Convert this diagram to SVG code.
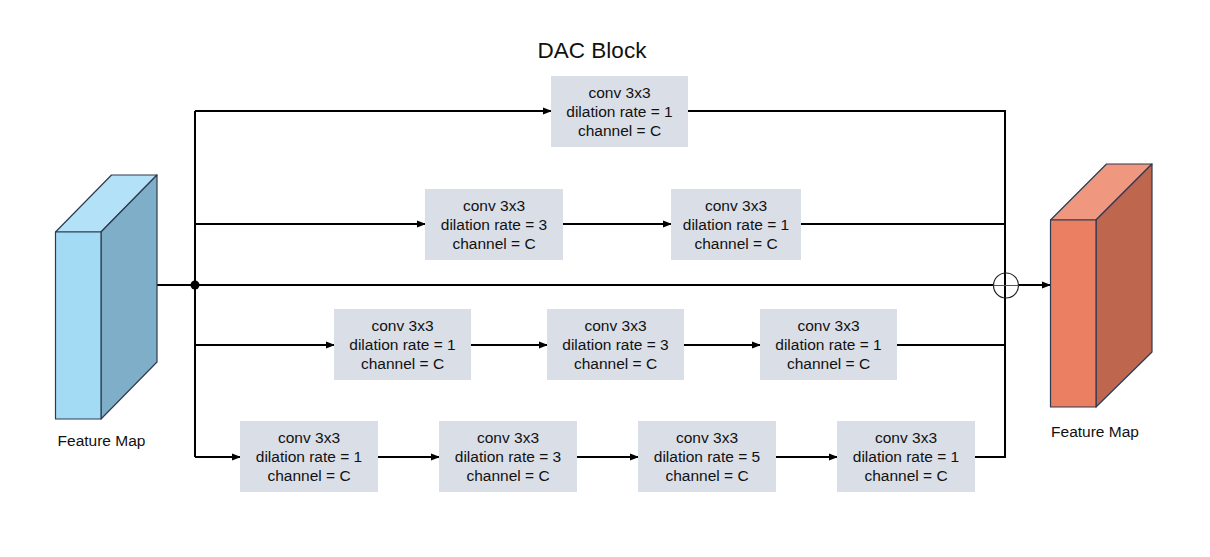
<svg xmlns="http://www.w3.org/2000/svg" width="1210" height="557" viewBox="0 0 1210 557">
<defs>
<marker id="arr" markerWidth="9" markerHeight="8" refX="8" refY="4" orient="auto" markerUnits="userSpaceOnUse">
<path d="M0,0.5 L9,4 L0,7.5 Z" fill="#000"/>
</marker>
<style>
.box{fill:#dadee7;stroke:none}
.t{font-family:"Liberation Sans",Arial,sans-serif;font-size:15.5px;fill:#111;text-anchor:middle}
.ln{stroke:#000;stroke-width:2;fill:none}
.ar{stroke:#000;stroke-width:2;fill:none;marker-end:url(#arr)}
.cs{stroke:#2e3a50;stroke-width:1.2;stroke-linejoin:round}
</style>
</defs>
<rect width="1210" height="557" fill="#fff"/>
<text x="592" y="58" font-family="&quot;Liberation Sans&quot;,Arial,sans-serif" font-size="22.5" fill="#111" text-anchor="middle">DAC Block</text>

<g id="connectors">
<line class="ln" x1="157" y1="285" x2="993" y2="285"/>
<line class="ln" x1="195" y1="111" x2="195" y2="457"/>
<line class="ar" x1="195" y1="111" x2="551" y2="111"/>
<line class="ln" x1="688" y1="111" x2="1005" y2="111"/>
<line class="ar" x1="195" y1="224" x2="425" y2="224"/>
<line class="ar" x1="563" y1="224" x2="671" y2="224"/>
<line class="ln" x1="801" y1="224" x2="1005" y2="224"/>
<line class="ar" x1="195" y1="345" x2="334" y2="345"/>
<line class="ar" x1="471" y1="345" x2="547" y2="345"/>
<line class="ar" x1="684" y1="345" x2="760" y2="345"/>
<line class="ln" x1="897" y1="345" x2="1005" y2="345"/>
<line class="ar" x1="195" y1="457" x2="240" y2="457"/>
<line class="ar" x1="378" y1="457" x2="439" y2="457"/>
<line class="ar" x1="577" y1="457" x2="638" y2="457"/>
<line class="ar" x1="776" y1="457" x2="837" y2="457"/>
<line class="ln" x1="975" y1="457" x2="1005" y2="457"/>
<line class="ln" x1="1005" y1="110" x2="1005" y2="458"/>
<line class="ar" x1="1018" y1="285" x2="1050" y2="285"/>
<circle cx="195" cy="285" r="4.5" fill="#000"/>
</g>

<g id="sum">
<circle cx="1006" cy="285.5" r="12.5" fill="none" stroke="#222" stroke-width="1.2"/>
<line x1="993.5" y1="285.5" x2="1018.5" y2="285.5" stroke="#555" stroke-width="1"/>
</g>

<g id="input-map">
<polygon class="cs" points="55.5,232 111.5,175 157,175 101,232" fill="#b3e1f7"/>
<polygon class="cs" points="101,232 157,175 157,362 101,419" fill="#7fafc8"/>
<rect class="cs" x="55.5" y="232" width="45.5" height="187" fill="#a3dbf5"/>
<text class="t" x="101.5" y="446">Feature Map</text>
</g>

<g id="output-map">
<polygon class="cs" points="1050.5,220 1106.5,164 1152,164 1096,220" fill="#f0977f"/>
<polygon class="cs" points="1096,220 1152,164 1152,352 1096,407" fill="#be674e"/>
<rect class="cs" x="1050.5" y="220" width="45.5" height="187" fill="#eb7f62"/>
<text class="t" x="1095" y="437">Feature Map</text>
</g>

<g id="b1">
<rect class="box" x="551" y="76" width="137" height="71"/>
<text class="t" x="619.5" y="98">conv 3x3</text>
<text class="t" x="619.5" y="117">dilation rate = 1</text>
<text class="t" x="619.5" y="136">channel = C</text>
</g>

<g id="b2a">
<rect class="box" x="425" y="189" width="138" height="71"/>
<text class="t" x="494" y="211">conv 3x3</text>
<text class="t" x="494" y="230">dilation rate = 3</text>
<text class="t" x="494" y="249">channel = C</text>
</g>
<g id="b2b">
<rect class="box" x="671" y="189" width="130" height="71"/>
<text class="t" x="736" y="211">conv 3x3</text>
<text class="t" x="736" y="230">dilation rate = 1</text>
<text class="t" x="736" y="249">channel = C</text>
</g>

<g id="b3a">
<rect class="box" x="334" y="309" width="137" height="71"/>
<text class="t" x="402.5" y="331">conv 3x3</text>
<text class="t" x="402.5" y="350">dilation rate = 1</text>
<text class="t" x="402.5" y="369">channel = C</text>
</g>
<g id="b3b">
<rect class="box" x="547" y="309" width="137" height="71"/>
<text class="t" x="615.5" y="331">conv 3x3</text>
<text class="t" x="615.5" y="350">dilation rate = 3</text>
<text class="t" x="615.5" y="369">channel = C</text>
</g>
<g id="b3c">
<rect class="box" x="760" y="309" width="137" height="71"/>
<text class="t" x="828.5" y="331">conv 3x3</text>
<text class="t" x="828.5" y="350">dilation rate = 1</text>
<text class="t" x="828.5" y="369">channel = C</text>
</g>

<g id="b4a">
<rect class="box" x="240" y="421" width="138" height="71"/>
<text class="t" x="309" y="443">conv 3x3</text>
<text class="t" x="309" y="462">dilation rate = 1</text>
<text class="t" x="309" y="481">channel = C</text>
</g>
<g id="b4b">
<rect class="box" x="439" y="421" width="138" height="71"/>
<text class="t" x="508" y="443">conv 3x3</text>
<text class="t" x="508" y="462">dilation rate = 3</text>
<text class="t" x="508" y="481">channel = C</text>
</g>
<g id="b4c">
<rect class="box" x="638" y="421" width="138" height="71"/>
<text class="t" x="707" y="443">conv 3x3</text>
<text class="t" x="707" y="462">dilation rate = 5</text>
<text class="t" x="707" y="481">channel = C</text>
</g>
<g id="b4d">
<rect class="box" x="837" y="421" width="138" height="71"/>
<text class="t" x="906" y="443">conv 3x3</text>
<text class="t" x="906" y="462">dilation rate = 1</text>
<text class="t" x="906" y="481">channel = C</text>
</g>
</svg>
